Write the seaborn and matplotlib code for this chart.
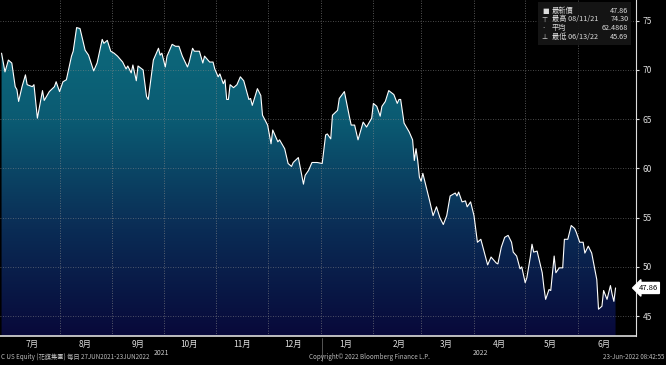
import numpy as np
import pandas as pd
import matplotlib
matplotlib.use('Agg')
import matplotlib.pyplot as plt
import matplotlib.dates as mdates
from matplotlib.colors import LinearSegmentedColormap
import seaborn as sns

# price series (C US Equity, daily)
dates = [
    '2021-06-28', '2021-06-30', '2021-07-02', '2021-07-04', '2021-07-06', '2021-07-07', '2021-07-08',
    '2021-07-10', '2021-07-12', '2021-07-13', '2021-07-16', '2021-07-17', '2021-07-19', '2021-07-22',
    '2021-07-23', '2021-07-26', '2021-07-29', '2021-07-30', '2021-08-01', '2021-08-03', '2021-08-05',
    '2021-08-08', '2021-08-09', '2021-08-11', '2021-08-13', '2021-08-16', '2021-08-18', '2021-08-21',
    '2021-08-23', '2021-08-26', '2021-08-27', '2021-08-29', '2021-08-31', '2021-09-02', '2021-09-04',
    '2021-09-07', '2021-09-09', '2021-09-10', '2021-09-12', '2021-09-13', '2021-09-15', '2021-09-16',
    '2021-09-19', '2021-09-21', '2021-09-22', '2021-09-25', '2021-09-28', '2021-09-29', '2021-09-30',
    '2021-10-02', '2021-10-03', '2021-10-06', '2021-10-08', '2021-10-10', '2021-10-12', '2021-10-15',
    '2021-10-16', '2021-10-18', '2021-10-19', '2021-10-22', '2021-10-24', '2021-10-25', '2021-10-28',
    '2021-10-30', '2021-10-31', '2021-11-02', '2021-11-03', '2021-11-05', '2021-11-06', '2021-11-07',
    '2021-11-08', '2021-11-09', '2021-11-11', '2021-11-13', '2021-11-15', '2021-11-17', '2021-11-20',
    '2021-11-21', '2021-11-22', '2021-11-25', '2021-11-27', '2021-11-28', '2021-12-01', '2021-12-03',
    '2021-12-04', '2021-12-07', '2021-12-08', '2021-12-11', '2021-12-13', '2021-12-15', '2021-12-16',
    '2021-12-19', '2021-12-22', '2021-12-23', '2021-12-25', '2021-12-27', '2021-12-30', '2022-01-02',
    '2022-01-04', '2022-01-05', '2022-01-07', '2022-01-08', '2022-01-11', '2022-01-12', '2022-01-15',
    '2022-01-18', '2022-01-19', '2022-01-21', '2022-01-23', '2022-01-26', '2022-01-28', '2022-01-31',
    '2022-02-01', '2022-02-03', '2022-02-05', '2022-02-06', '2022-02-08', '2022-02-10', '2022-02-13',
    '2022-02-15', '2022-02-16', '2022-02-17', '2022-02-19', '2022-02-22', '2022-02-24', '2022-02-25',
    '2022-02-26', '2022-02-27', '2022-02-28', '2022-03-01', '2022-03-02', '2022-03-04', '2022-03-06',
    '2022-03-08', '2022-03-10', '2022-03-12', '2022-03-14', '2022-03-16', '2022-03-18', '2022-03-21',
    '2022-03-22', '2022-03-23', '2022-03-25', '2022-03-27', '2022-03-28', '2022-03-30', '2022-04-01',
    '2022-04-03', '2022-04-05', '2022-04-07', '2022-04-09', '2022-04-11', '2022-04-14', '2022-04-15',
    '2022-04-17', '2022-04-19', '2022-04-21', '2022-04-23', '2022-04-24', '2022-04-26', '2022-04-28',
    '2022-04-29', '2022-05-01', '2022-05-02', '2022-05-04', '2022-05-05', '2022-05-06', '2022-05-08',
    '2022-05-11', '2022-05-12', '2022-05-13', '2022-05-15', '2022-05-16', '2022-05-18', '2022-05-19',
    '2022-05-21', '2022-05-23', '2022-05-24', '2022-05-26', '2022-05-28', '2022-05-30', '2022-05-31',
    '2022-06-02', '2022-06-04', '2022-06-05', '2022-06-07', '2022-06-09', '2022-06-12', '2022-06-13',
    '2022-06-15', '2022-06-16', '2022-06-18', '2022-06-20', '2022-06-21', '2022-06-22', '2022-06-23',
]
prices = [
    71.7, 69.8, 71.0, 70.7, 68.3, 68.0, 66.8,
    68.3, 69.5, 68.5, 68.3, 68.5, 65.1, 67.9,
    66.9, 67.8, 68.3, 68.8, 67.8, 68.8, 69.0,
    71.4, 71.9, 74.3, 74.2, 72.0, 71.5, 69.9,
    70.7, 73.1, 72.7, 73.0, 71.9, 71.7, 71.4,
    70.8, 70.1, 70.4, 69.7, 70.5, 68.9, 70.4,
    70.0, 67.3, 67.0, 71.0, 72.2, 71.5, 71.7,
    70.3, 71.4, 72.6, 72.4, 72.4, 71.4, 70.3,
    70.8, 72.2, 71.9, 71.9, 70.7, 71.4, 70.8,
    70.8, 70.1, 69.3, 69.6, 68.6, 69.0, 67.0,
    67.0, 68.5, 68.2, 68.5, 69.3, 68.9, 67.0,
    67.1, 66.4, 68.1, 67.4, 65.4, 64.4, 62.5,
    63.9, 62.7, 62.9, 62.0, 60.5, 60.2, 60.6,
    61.1, 58.4, 59.3, 59.8, 60.6, 60.6, 60.5,
    63.4, 63.5, 63.0, 65.4, 65.9, 67.1, 67.8,
    65.2, 64.4, 64.4, 62.9, 64.7, 64.2, 65.1,
    66.6, 66.3, 65.3, 66.3, 66.8, 67.9, 67.5,
    66.6, 67.0, 67.0, 64.6, 63.7, 62.9, 60.8,
    62.0, 60.8, 59.1, 58.7, 59.5, 58.1, 56.7,
    55.2, 56.1, 55.0, 54.3, 55.2, 57.2, 57.5,
    57.2, 57.6, 56.6, 56.7, 56.1, 56.6, 55.2,
    52.5, 52.8, 51.5, 50.2, 51.0, 50.4, 50.3,
    52.0, 53.0, 53.2, 52.5, 51.5, 51.1, 49.8,
    50.0, 48.4, 48.9, 51.0, 52.3, 51.5, 51.6,
    49.4, 47.9, 46.7, 47.7, 47.6, 51.1, 49.4,
    49.9, 49.9, 52.8, 52.8, 54.2, 53.9, 53.5,
    52.5, 52.5, 51.4, 52.1, 51.4, 48.7, 45.7,
    46.0, 47.6, 46.7, 48.1, 47.2, 46.5, 47.86,
]

month_labels = ['7月', '8月', '9月', '10月', '11月', '12月', '1月', '2月', '3月', '4月', '5月', '6月']
y_ticks = [45, 50, 55, 60, 65, 70, 75]
legend_rows = [('最新價', '', '47.86'), ('最高', '08/11/21', '74.30'),
               ('平均', '', '62.4868'), ('最低', '06/13/22', '45.69')]
last_price = '47.86'

df = pd.DataFrame({'date': pd.to_datetime(dates), 'price': prices})

sns.set_style('dark')
plt.rcParams['font.family'] = ['Noto Sans CJK TC', 'DejaVu Sans']

fig = plt.figure(figsize=(6.66, 3.65), dpi=100, facecolor='black')
ax = fig.add_axes([0.0, 0.08, 0.955, 0.92], facecolor='black')

x0 = pd.Timestamp('2021-06-28') - pd.Timedelta(hours=22)
x1 = pd.Timestamp('2022-07-05')
y0, y1 = 43.0, 77.1
ax.set_xlim(x0, x1)
ax.set_ylim(y0, y1)

# gradient area under the line
poly = ax.fill_between(df['date'], df['price'], y0, color='none', lw=0)
cmap = LinearSegmentedColormap.from_list('bbg', ['#08093a', '#0a2c55', '#0b5a72', '#0d6d7e'])
grad = np.linspace(0, 1, 256).reshape(-1, 1)
im = ax.imshow(grad, cmap=cmap, aspect='auto', origin='lower',
               extent=[mdates.date2num(x0), mdates.date2num(x1), y0, 75.5], zorder=1)
im.set_clip_path(poly.get_paths()[0], transform=ax.transData)

sns.lineplot(data=df, x='date', y='price', color='white', lw=0.8, ax=ax, zorder=3)

# grid
month_starts = pd.date_range('2021-07-01', '2022-07-01', freq='MS')
for m in month_starts[1:-1]:
    ax.axvline(m, color='#8a8a8a', lw=0.6, ls=(0, (1, 2)), zorder=2, alpha=0.8)
for yv in y_ticks:
    ax.axhline(yv, color='#8a8a8a', lw=0.6, ls=(0, (1, 2)), zorder=2, alpha=0.7)

# axes styling
for s in ['top', 'left']:
    ax.spines[s].set_visible(False)
ax.spines['right'].set_color('#dddddd')
ax.spines['right'].set_linewidth(0.8)
ax.spines['bottom'].set_color('#dddddd')
ax.spines['bottom'].set_linewidth(1.2)

ax.yaxis.tick_right()
ax.set_yticks(y_ticks)
ax.set_yticklabels([str(v) for v in y_ticks])
ax.tick_params(axis='y', colors='#dddddd', labelsize=6, length=2, width=0.8, pad=3)

ax.set_xticks(month_starts)
ax.set_xticklabels([''] * len(month_starts))
mids = [m + pd.Timedelta(days=15) for m in month_starts[:-1]]
ax.set_xticks(mids, minor=True)
ax.set_xticklabels(month_labels, minor=True)
ax.tick_params(axis='x', which='major', colors='#dddddd', length=3, width=0.8, direction='inout')
ax.tick_params(axis='x', which='minor', colors='#dddddd', labelsize=6, length=0, pad=3)
ax.set_xlabel('')
ax.set_ylabel('')

# last price tag
ax.text(1.004, (47.86 - y0) / (y1 - y0), last_price, transform=ax.transAxes, fontsize=5.5,
        color='black', va='center', ha='left',
        bbox=dict(boxstyle='larrow,pad=0.2', fc='white', ec='white'), clip_on=False)

# legend box
lx, ly = 0.846, 0.99
box = plt.Rectangle((lx, 0.865), 0.146, 0.128, transform=ax.transAxes, fc='#161616',
                    ec='none', zorder=5, alpha=0.95)
ax.add_patch(box)
marks = ['■', '⊤', '·', '⊥']
for i, (name, dt, val) in enumerate(legend_rows):
    yy = ly - 0.022 - i * 0.026
    ax.text(lx + 0.006, yy, marks[i], transform=ax.transAxes, fontsize=5, color='#dddddd',
            va='center', zorder=6, family=['DejaVu Sans'])
    ax.text(lx + 0.022, yy, name + (' ' + dt if dt else ''), transform=ax.transAxes,
            fontsize=5.2, color='#dddddd', va='center', zorder=6)
    ax.text(lx + 0.142, yy, val, transform=ax.transAxes, fontsize=5.2, color='#dddddd',
            va='center', ha='right', zorder=6)

# footer
fig.text(0.242, 0.033, '2021', fontsize=5, color='#cccccc', ha='center', va='center')
fig.text(0.722, 0.033, '2022', fontsize=5, color='#cccccc', ha='center', va='center')
fig.add_artist(plt.Line2D([0.483, 0.483], [0.01, 0.075], color='#777777', lw=0.5))
fig.text(0.002, 0.01, 'C US Equity (花旗集團) 每日 27JUN2021-23JUN2022', fontsize=4.5,
         color='#bbbbbb', ha='left', va='bottom')
fig.text(0.555, 0.01, 'Copyright© 2022 Bloomberg Finance L.P.', fontsize=4.5,
         color='#bbbbbb', ha='center', va='bottom')
fig.text(0.998, 0.01, '23-Jun-2022 08:42:55', fontsize=4.5, color='#bbbbbb',
         ha='right', va='bottom')

fig.savefig('out.png', dpi=100, facecolor='black')
